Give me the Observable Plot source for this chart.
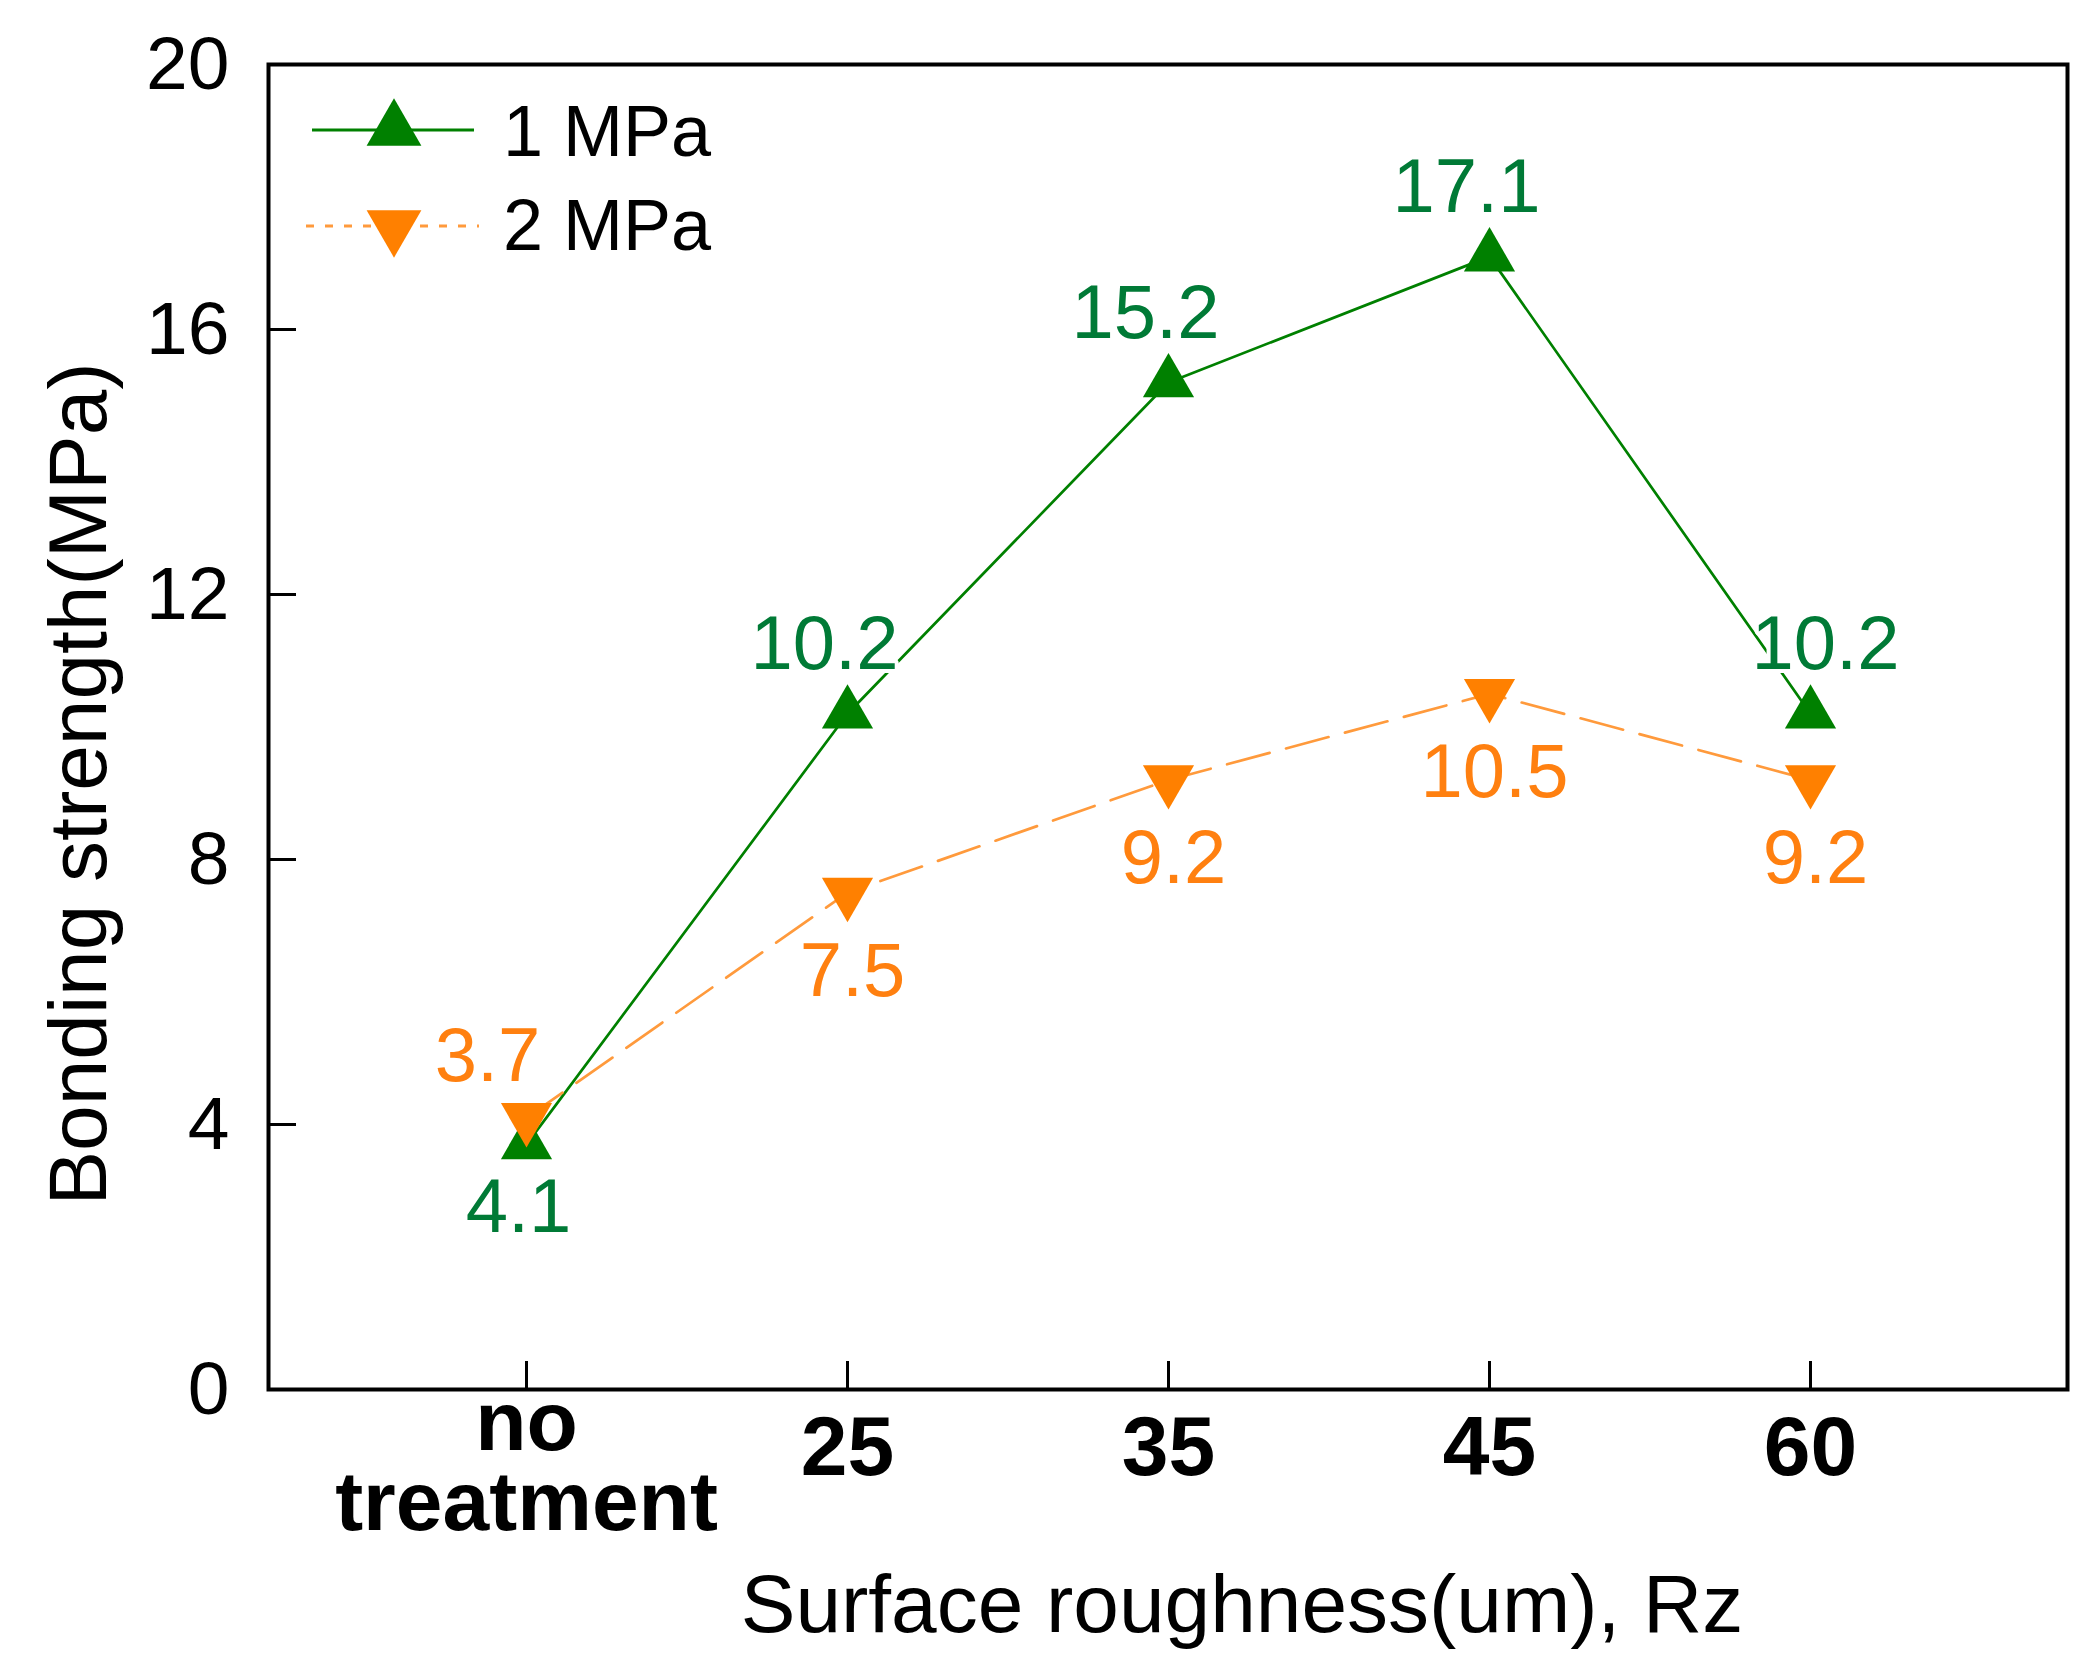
<!DOCTYPE html>
<html>
<head>
<meta charset="utf-8">
<script src="https://cdn.jsdelivr.net/npm/d3@7"></script>
<script src="https://cdn.jsdelivr.net/npm/@observablehq/plot@0.6"></script>
<style>
  html, body { margin: 0; padding: 0; background: #ffffff; }
  #chart { width: 2088px; height: 1662px; }
</style>
</head>
<body>
<div id="chart"></div>
<script>
// ---- data ----
const categories = ["no treatment", "25", "35", "45", "60"];
const tickLabels = ["no\ntreatment", "25", "35", "45", "60"];
const yTicks = [0, 4, 8, 12, 16, 20];
const seriesNames = ["1 MPa", "2 MPa"];
const values1 = [3.7, 10.2, 15.2, 17.1, 10.2];
const values2 = [4.1, 7.5, 9.2, 10.5, 9.2];
const labels1 = ["4.1", "10.2", "15.2", "17.1", "10.2"];
const labels2 = ["3.7", "7.5", "9.2", "10.5", "9.2"];
const xTitle = "Surface roughness(um), Rz";
const yTitle = "Bonding strength(MPa)";

// ---- styles ----
const FONT = "'Liberation Sans', Arial, sans-serif";
const GREEN = "#008000";
const GREEN_TXT = "#007a36";
const ORANGE = "#ff8000";
const ORANGE_LINE = "#ff9a3c";
const ORANGE_TXT = "#ff8010";

const W = 2088, H = 1662;
const mL = 268, mR = 21, mT = 64, mB = 273;
const frameW = W - mL - mR, frameH = H - mT - mB;
const tickLen = 28;

const d1 = categories.map((c, i) => ({x: c, y: values1[i], label: labels1[i], i}));
const d2 = categories.map((c, i) => ({x: c, y: values2[i], label: labels2[i], i}));

const labelFont = {fontSize: 76, fontFamily: FONT, stroke: "white", strokeWidth: 8, lineAnchor: "bottom"};

const chart = Plot.plot({
  width: W,
  height: H,
  marginLeft: mL, marginRight: mR, marginTop: mT, marginBottom: mB,
  style: {fontFamily: FONT, background: "white", color: "black"},
  x: {type: "point", domain: categories, padding: 0.8},
  y: {domain: [0, 20]},
  marks: [
    // inward ticks
    Plot.tickY(yTicks, {y: d => d, insetRight: frameW - tickLen, stroke: "black", strokeWidth: 3}),
    Plot.tickX(categories, {x: d => d, insetTop: frameH - tickLen, stroke: "black", strokeWidth: 3}),
    // axes
    Plot.axisY({ticks: yTicks, tickSize: 0, tickPadding: 39, fontSize: 75, label: null}),
    Plot.axisX({ticks: categories.slice(1), tickSize: 0, tickPadding: 26, fontSize: 84, fontWeight: "bold",
      tickFormat: d => tickLabels[categories.indexOf(d)], label: null}),
    Plot.axisX({ticks: categories.slice(0, 1), tickSize: 0, tickPadding: 4, fontSize: 84, fontWeight: "bold",
      lineHeight: 0.95, tickFormat: d => tickLabels[categories.indexOf(d)], label: null}),
    // lines
    Plot.line(d1, {x: "x", y: "y", stroke: GREEN, strokeWidth: 2.7}),
    Plot.line(d2, {x: "x", y: "y", stroke: ORANGE_LINE, strokeWidth: 2.7, strokeDasharray: "44,17"}),
    // value labels
    Plot.text(d1, {filter: d => d.i >= 1 && d.i <= 3, x: "x", y: "y", text: "label", fill: GREEN_TXT, dx: -23, dy: -45, ...labelFont}),
    Plot.text(d1, {filter: d => d.i === 4, x: "x", y: "y", text: "label", fill: GREEN_TXT, dx: 15, dy: -45, ...labelFont}),
    Plot.text(d1, {filter: d => d.i === 0, x: "x", y: "y", text: "label", fill: GREEN_TXT, dx: -8, dy: 88, ...labelFont}),
    Plot.text(d2, {filter: d => d.i === 0, x: "x", y: "y", text: "label", fill: ORANGE_TXT, dx: -39, dy: -37, ...labelFont}),
    Plot.text(d2, {filter: d => d.i >= 1, x: "x", y: "y", text: "label", fill: ORANGE_TXT, dx: 5, dy: 103, ...labelFont}),
    // markers
    Plot.dot(d1, {x: "x", y: "y", symbol: "triangle", r: 19, fill: GREEN, stroke: "none"}),
    Plot.dot(d2, {x: "x", y: "y", symbol: "triangle", r: 19, fill: ORANGE, stroke: "none", rotate: 180}),
    // axis titles
    Plot.text([xTitle], {frameAnchor: "bottom", text: d => d, fontSize: 82, lineAnchor: "bottom", textAnchor: "middle", dx: 74, dy: 242, fill: "black"}),
    Plot.text([yTitle], {frameAnchor: "left", text: d => d, fontSize: 82, lineAnchor: "bottom", textAnchor: "middle", rotate: -90, dx: -163, dy: 57, fill: "black"}),
    // frame
    Plot.frame({stroke: "black", strokeWidth: 4})
  ]
});

document.getElementById("chart").appendChild(chart);

// ---- legend (inside plot frame, top-left) ----
const svg = d3.select(chart);
const leg = svg.append("g").attr("font-family", FONT).attr("text-anchor", "start");
const legendItems = [
  {name: seriesNames[0], color: GREEN, line: GREEN, dash: null, rot: 0, y: 130, x1: 312, x2: 474, ty: 156},
  {name: seriesNames[1], color: ORANGE, line: ORANGE_LINE, dash: "8,11", rot: 180, y: 226, x1: 306, x2: 479, ty: 250}
];
legendItems.forEach(it => {
  leg.append("line")
    .attr("x1", it.x1).attr("x2", it.x2).attr("y1", it.y).attr("y2", it.y)
    .attr("stroke", it.line).attr("stroke-width", 3)
    .attr("stroke-dasharray", it.dash);
  leg.append("path")
    .attr("d", d3.symbol(d3.symbolTriangle, 1300)())
    .attr("transform", `translate(394,${it.y}) rotate(${it.rot})`)
    .attr("fill", it.color);
  leg.append("text")
    .attr("x", 503).attr("y", it.ty)
    .attr("font-size", 72).attr("fill", "black")
    .attr("text-anchor", "start")
    .text(it.name);
});
</script>
</body>
</html>
